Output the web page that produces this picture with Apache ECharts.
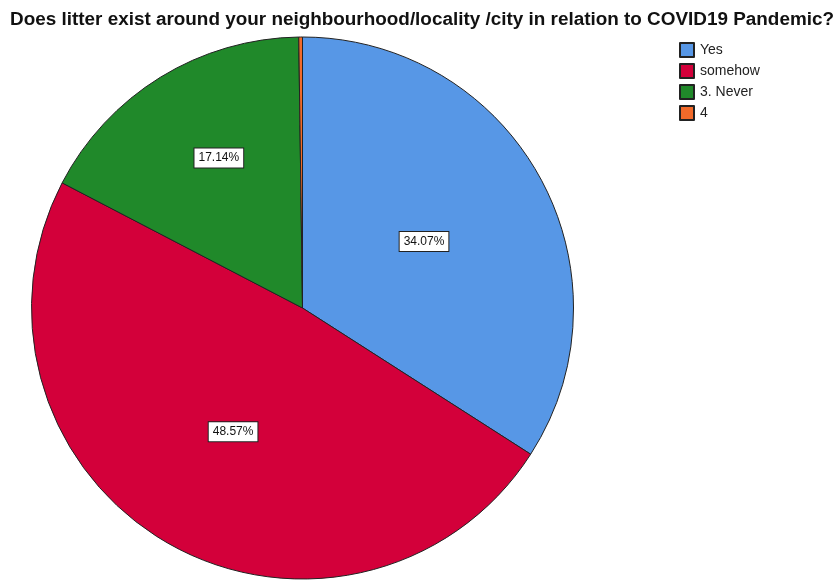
<!DOCTYPE html>
<html>
<head>
<meta charset="utf-8">
<script src="https://cdn.jsdelivr.net/npm/echarts@6/dist/echarts.min.js"></script>
<style>html,body{margin:0;padding:0;background:#fff}#c{width:838px;height:581px}</style>
</head>
<body>
<div id="c"></div>
<script>
var categories = ['Yes', 'somehow', '3. Never', '4'];
var values = [34.07, 48.57, 17.14, 0.22];
var colors = ['#5797E6', '#D3003A', '#20892A', '#F26A2A'];
var labelOffsets = [[0, 0], [0, 4], [-11, -32], [0, 0]];
var showLabel = [true, true, true, false];

var chart = echarts.init(document.getElementById('c'));
chart.setOption({
  animation: false,
  title: {
    text: 'Does litter exist around your neighbourhood/locality /city in relation to COVID19 Pandemic?',
    left: 5, top: 5,
    textStyle: { fontFamily: 'Liberation Sans, Arial', fontSize: 18.9, fontWeight: 'bold', color: '#111' }
  },
  legend: {
    orient: 'vertical', left: 674, top: 37,
    itemWidth: 14, itemHeight: 14, itemGap: 5,
    icon: 'rect',
    textStyle: { fontFamily: 'Liberation Sans, Arial', fontSize: 14, lineHeight: 14, color: '#222', padding: [0, 0, 0, 1] },
    data: categories
  },
  series: [{
    type: 'pie',
    center: [302.5, 308],
    radius: [0, 271],
    startAngle: 90,
    clockwise: true,
    itemStyle: { borderColor: '#222', borderWidth: 1 },
    labelLine: { show: false },
    label: {
      position: 'inside',
      formatter: function (p) { return p.value.toFixed(2) + '%'; },
      fontFamily: 'Liberation Sans, Arial', fontSize: 12, color: '#111',
      backgroundColor: '#fff', borderColor: '#222', borderWidth: 1,
      padding: [4, 4, 3, 4]
    },
    emphasis: { disabled: true },
    data: categories.map(function (c, i) {
      return {
        name: c, value: values[i],
        itemStyle: { color: colors[i] },
        label: { show: showLabel[i], offset: labelOffsets[i] }
      };
    })
  }]
});
</script>
</body>
</html>
